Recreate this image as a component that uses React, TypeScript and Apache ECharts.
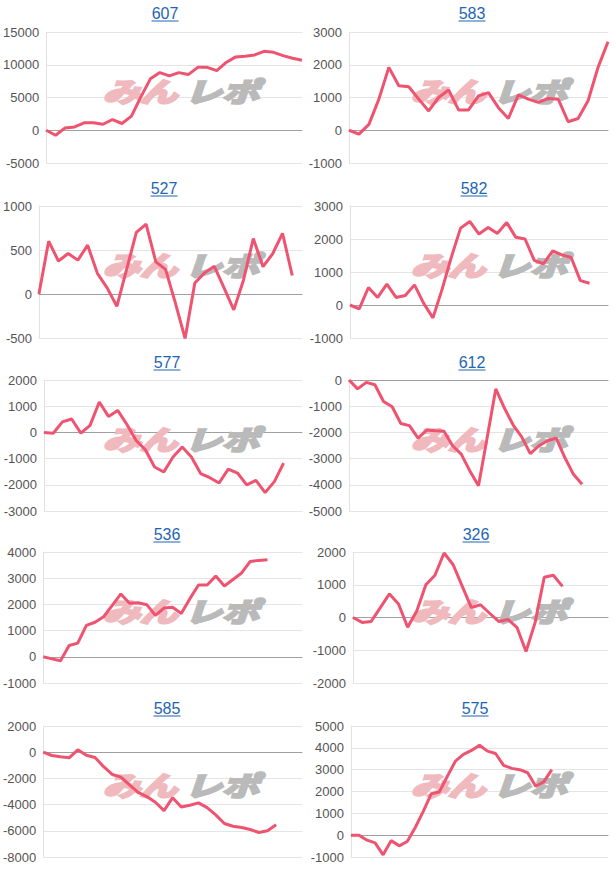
import React, { useEffect, useRef } from "react";
import * as echarts from "echarts";

// Titles of the ten small charts
const titles = ["607", "583", "527", "582", "577", "612", "536", "326", "585", "575"];

// Number of day slots on each x axis
const slotCounts = [28, 27, 28, 29, 29, 31, 31, 29, 31, 33];

// Y axis ranges
const yMins = [-5000, -1000, -500, -1000, -3000, -5000, -1000, -2000, -8000, -1000];
const yMaxs = [15000, 3000, 1000, 3000, 2000, 0, 4000, 2000, 2000, 5000];
const yIntervals = [5000, 1000, 500, 1000, 1000, 1000, 1000, 1000, 2000, 1000];

// Series values
const s607 = [0, -770, 360, 510, 1130, 1130, 920, 1640, 1030, 2150, 5100, 7850, 8800, 8300, 8800, 8500, 9600, 9600, 9100, 10350, 11200, 11300, 11500, 12050, 11900, 11400, 11000, 10700];
const s583 = [0, -120, 180, 950, 1920, 1360, 1330, 950, 590, 1000, 1230, 620, 620, 1050, 1150, 690, 360, 1080, 950, 850, 970, 950, 260, 360, 900, 1920, 2700];
const s527 = [0, 600, 375, 460, 385, 555, 235, 70, -140, 280, 700, 795, 365, 280, -100, -505, 125, 240, 315, 70, -180, 160, 630, 310, 460, 690, 210];
const s582 = [0, -120, 530, 230, 630, 230, 290, 610, 50, -390, 480, 1450, 2330, 2530, 2150, 2350, 2170, 2500, 2050, 2000, 1350, 1250, 1640, 1520, 1440, 740, 660];
const s577 = [0, -30, 400, 510, -30, 270, 1160, 610, 840, 300, -310, -660, -1320, -1510, -940, -560, -940, -1570, -1730, -1930, -1400, -1550, -2000, -1830, -2300, -1880, -1170];
const s612 = [0, -340, -90, -180, -820, -1020, -1660, -1740, -2220, -1910, -1940, -1960, -2510, -2830, -3470, -4040, -2200, -340, -1070, -1710, -2170, -2810, -2510, -2320, -2220, -2960, -3600, -3980];
const s536 = [0, -80, -150, 430, 520, 1200, 1320, 1530, 1960, 2400, 2040, 2060, 1990, 1580, 1860, 1890, 1650, 2220, 2740, 2740, 3080, 2700, 2950, 3200, 3640, 3680, 3700];
const s326 = [0, -150, -120, 300, 720, 410, -300, 200, 1000, 1290, 1970, 1610, 950, 300, 390, 130, -120, -60, -300, -1040, -150, 1230, 1290, 950];
const s585 = [0, -250, -350, -430, 180, -230, -400, -1110, -1700, -1900, -2500, -3060, -3390, -3820, -4460, -3470, -4180, -4050, -3870, -4230, -4780, -5440, -5650, -5750, -5900, -6130, -6000, -5540];
const s575 = [0, 0, -230, -350, -900, -250, -490, -290, 350, 1090, 1900, 1980, 2700, 3390, 3700, 3880, 4120, 3850, 3740, 3200, 3060, 3000, 2860, 2240, 2440, 3000];

const seriesData = [s607, s583, s527, s582, s577, s612, s536, s326, s585, s575];

// Layout (pixels)
const grids = [
  { left: 44, top: 32, width: 258, height: 131 },
  { left: 349, top: 32, width: 259, height: 131 },
  { left: 37, top: 206, width: 265, height: 132 },
  { left: 350, top: 206, width: 258, height: 132 },
  { left: 44, top: 380, width: 258, height: 131 },
  { left: 349, top: 380, width: 259, height: 131 },
  { left: 43, top: 552, width: 259, height: 131 },
  { left: 353, top: 552, width: 255, height: 131 },
  { left: 43, top: 726, width: 259, height: 131 },
  { left: 351, top: 726, width: 257, height: 131 },
];
const titlePos = [
  [165, 13], [472, 13],
  [164, 188], [474, 188],
  [167, 362], [472, 362],
  [167, 534], [476, 534],
  [167, 708], [475, 708],
];

const LINE = "#ef5370";
const FONT = "'Liberation Sans', Arial, sans-serif";
const WM_FONT = "italic bold 27px 'Noto Sans CJK JP', sans-serif";

export default function App() {
  const ref = useRef<HTMLDivElement>(null);
  useEffect(() => {
    document.body.style.margin = "0";
    const chart = echarts.init(ref.current!, null, { renderer: "svg" });
    const graphics: any[] = [];
    titles.forEach((t, i) => {
      const [cx, cy] = titlePos[i];
      graphics.push({
        type: "text",
        x: cx,
        y: cy,
        z: 10,
        style: {
          text: t,
          fill: "#1f65b3",
          font: `16px ${FONT}`,
          textAlign: "center",
          textVerticalAlign: "middle",
        },
      });
      graphics.push({
        type: "line",
        z: 10,
        shape: { x1: cx - 13.5, y1: cy + 8, x2: cx + 13.5, y2: cy + 8 },
        style: { stroke: "#1f65b3", lineWidth: 1 },
      });
      const cellX = i % 2 === 0 ? 0 : 308;
      const wy = grids[i].top + 58;
      graphics.push({
        type: "text",
        x: cellX + 140,
        y: wy,
        z: 1,
        scaleX: 1.38,
        style: {
          text: "みん",
          fill: "#efb9be",
          stroke: "#efb9be",
          lineWidth: 2.5,
          font: WM_FONT,
          textAlign: "center",
          textVerticalAlign: "middle",
        },
      });
      graphics.push({
        type: "text",
        x: cellX + 222,
        y: wy,
        z: 1,
        scaleX: 1.38,
        style: {
          text: "レポ",
          fill: "#bababa",
          stroke: "#bababa",
          lineWidth: 2.5,
          font: WM_FONT,
          textAlign: "center",
          textVerticalAlign: "middle",
        },
      });
    });

    chart.setOption({
      animation: false,
      grid: grids.map((g) => ({ ...g, containLabel: false })),
      xAxis: slotCounts.map((n, i) => ({
        type: "category",
        gridIndex: i,
        data: Array.from({ length: n }, (_, k) => String(k + 1)),
        boundaryGap: false,
        axisLabel: { show: false },
        axisTick: { show: false },
        axisLine: { show: true, onZero: true, lineStyle: { color: "#a0a0a0", width: 1 } },
        splitLine: { show: false },
      })),
      yAxis: titles.map((_, i) => ({
        type: "value",
        gridIndex: i,
        min: yMins[i],
        max: yMaxs[i],
        interval: yIntervals[i],
        axisLabel: {
          color: "#555",
          fontSize: 13,
          fontFamily: FONT,
          margin: 7,
          formatter: (v: number) => String(v),
        },
        axisTick: { show: false },
        axisLine: { show: true, lineStyle: { color: "#e2e2e2" } },
        splitLine: { show: true, lineStyle: { color: "#e4e4e4" } },
      })),
      series: seriesData.map((d, i) => ({
        type: "line",
        xAxisIndex: i,
        yAxisIndex: i,
        data: d,
        symbol: "none",
        z: 5,
        lineStyle: { color: LINE, width: 3 },
        itemStyle: { color: LINE },
      })),
      graphic: graphics,
    });
    return () => chart.dispose();
  }, []);
  return <div ref={ref} style={{ width: 616, height: 870 }} />;
}
